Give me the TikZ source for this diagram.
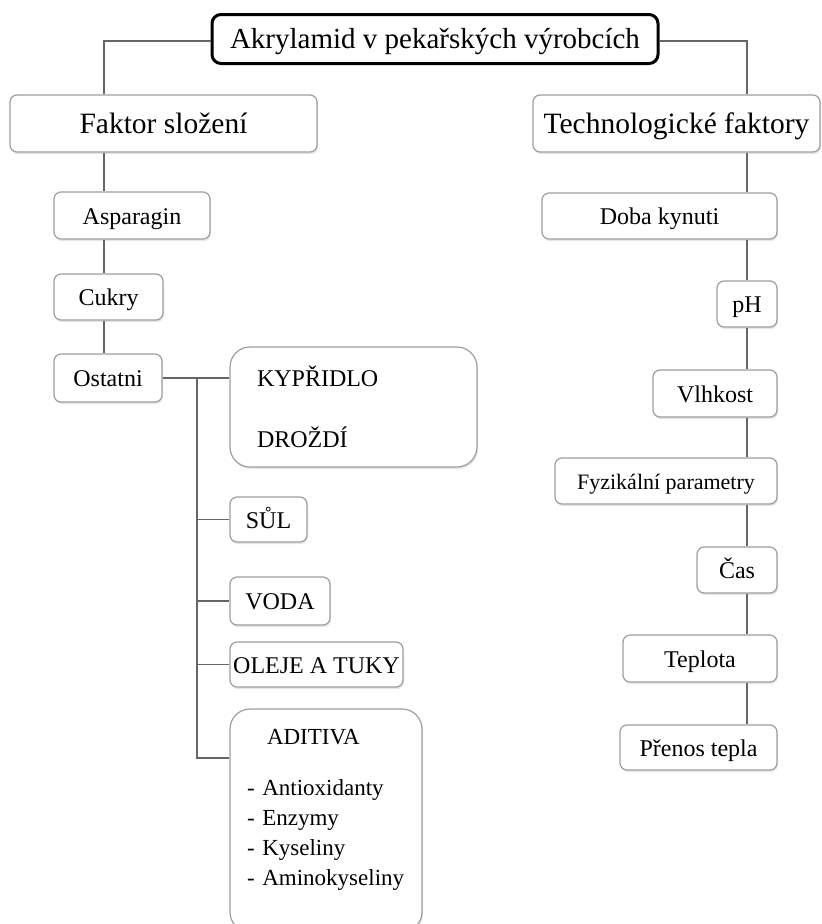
\documentclass[tikz,border=0pt]{standalone}
\usepackage{fontspec}
\setmainfont{Liberation Serif}
\usetikzlibrary{shadows}

\begin{document}
\begin{tikzpicture}[x=1pt,y=-1pt,
  box/.style={draw=black!38, line width=1.2pt, fill=white, rounded corners=7pt,
    inner sep=0pt, drop shadow={shadow xshift=1pt, shadow yshift=-2pt, opacity=0.2},
    font=\fontsize{24}{28}\selectfont},
  item/.style={box, text height=17pt, text depth=0pt},
  bigbox/.style={box, rounded corners=20pt, align=left},
  headbox/.style={box, font=\fontsize{29.5}{32}\selectfont, text height=20pt, text depth=0pt},
  conn/.style={draw=black!60, line width=1.4pt}]
  \useasboundingbox (0,0) rectangle (822,924);
  % top
  \node[draw, line width=3pt, rounded corners=9pt, fill=white, minimum width=446pt,
    minimum height=49pt, inner sep=0pt, text height=19pt, text depth=0pt,
    font=\fontsize{29}{32}\selectfont]
    (title) at (435,39) {Akrylamid v pekařských výrobcích};
  \node[headbox, minimum width=307pt, minimum height=57pt] (faktor) at (163.5,123.5) {Faktor složení};
  \node[headbox, minimum width=287pt, minimum height=57pt] (tech) at (676.5,123.5) {Technologické faktory};
  % left column
  \node[item, minimum width=156pt, minimum height=47pt] (asp) at (132,215.5) {Asparagin};
  \node[item, minimum width=109pt, minimum height=46pt] (cukry) at (108.5,297) {Cukry};
  \node[item, minimum width=108pt, minimum height=48pt] (ost) at (108,378) {Ostatni};
  \node[bigbox, text width=193pt, inner xsep=27pt, minimum height=120pt] (kyp) at (353.5,407)
    {KYPŘIDLO\\[33pt]DROŽDÍ};
  \node[item, minimum width=77pt, minimum height=45pt] (sul) at (268.5,519.5) {SŮL};
  \node[item, minimum width=100pt, minimum height=48pt] (voda) at (280,601) {VODA};
  \node[item, minimum width=173pt, minimum height=45pt] (olej) at (316.5,664.5) {OLEJE A TUKY};
  \node[bigbox, text width=158pt, inner xsep=17pt, minimum height=223pt,
    font=\fontsize{23}{30}\selectfont] (adit) at (326,820.5)
    {\hspace*{20pt}ADITIVA\\[21pt]- Antioxidanty\\- Enzymy\\- Kyseliny\\- Aminokyseliny\\[-4pt]\mbox{}};
  % right column
  \node[item, minimum width=235pt, minimum height=46pt] (doba) at (659.5,216) {Doba kynuti};
  \node[item, minimum width=60pt, minimum height=46pt] (ph) at (747,304) {pH};
  \node[item, minimum width=124pt, minimum height=47pt] (vlh) at (715,393.5) {Vlhkost};
  \node[item, minimum width=222pt, minimum height=46pt, font=\fontsize{22}{26}\selectfont] (fyz) at (666,481) {Fyzikální parametry};
  \node[item, minimum width=80pt, minimum height=46pt] (cas) at (737,570) {Čas};
  \node[item, minimum width=154pt, minimum height=47pt] (tepl) at (700,658.5) {Teplota};
  \node[item, minimum width=157pt, minimum height=45pt] (pren) at (698.5,747.5) {Přenos tepla};
  % connectors
  \coordinate (lt) at (104,41);
  \coordinate (rt) at (747,41);
  \draw[conn] (title.west |- lt) -- (lt) -- (lt |- faktor.north);
  \draw[conn] (title.east |- rt) -- (rt) -- (rt |- tech.north);
  \foreach \a/\b in {faktor/asp, asp/cukry, cukry/ost}
    \draw[conn] (lt |- \a.south) -- (lt |- \b.north);
  \foreach \a/\b in {tech/doba, doba/ph, ph/vlh, vlh/fyz, fyz/cas, cas/tepl, tepl/pren}
    \draw[conn] (rt |- \a.south) -- (rt |- \b.north);
  \coordinate (br) at (197,378);
  \coordinate (be) at (197,758);
  \draw[conn] (ost.east) -- (ost.east -| kyp.west);
  \draw[conn] (br) -- (be) -- (be -| adit.west);
  \foreach \n in {sul, voda, olej}
    \draw[conn] (br |- \n.west) -- (\n.west);
\end{tikzpicture}
\end{document}
